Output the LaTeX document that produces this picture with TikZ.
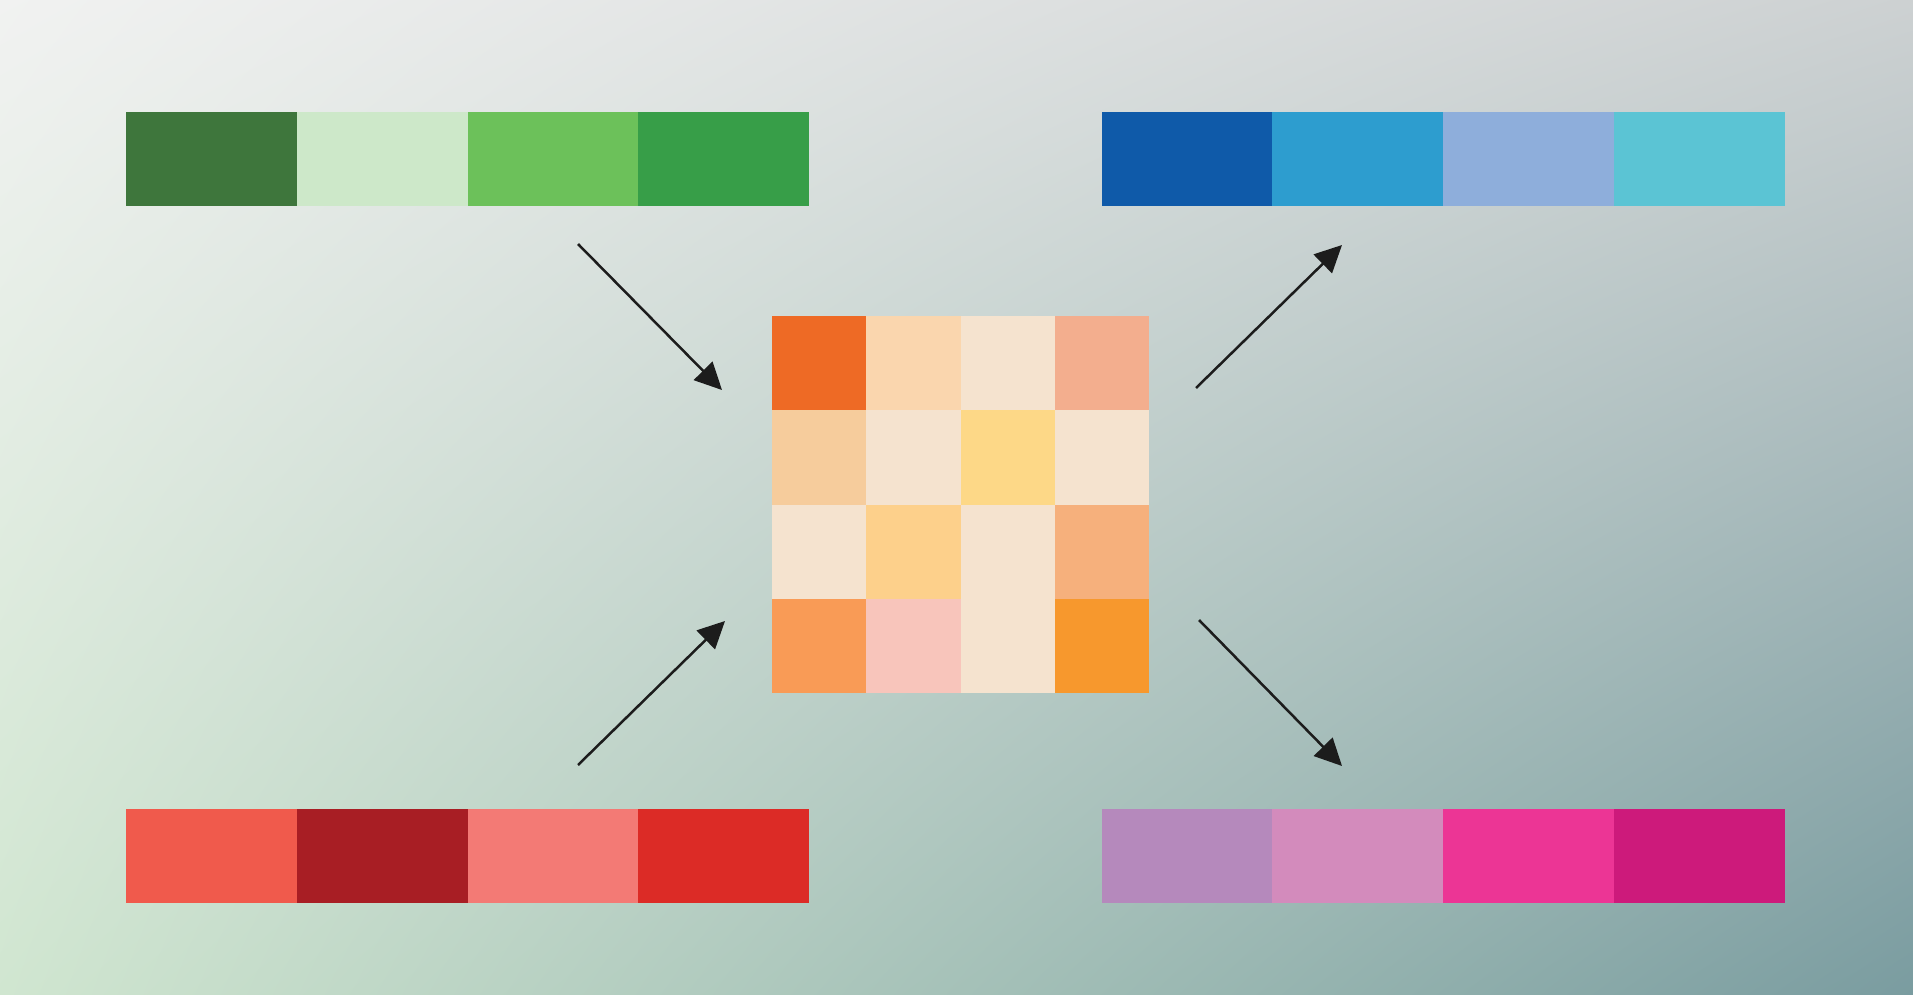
\documentclass[tikz,border=0pt]{standalone}
\usetikzlibrary{positioning,arrows.meta}
\definecolor{green1}{HTML}{3E763C}
\definecolor{green2}{HTML}{CDE8C9}
\definecolor{green3}{HTML}{6CC15A}
\definecolor{green4}{HTML}{379E48}
\definecolor{blue1}{HTML}{0F5AA9}
\definecolor{blue2}{HTML}{2D9DCF}
\definecolor{blue3}{HTML}{8EAEDB}
\definecolor{blue4}{HTML}{5BC4D4}
\definecolor{red1}{HTML}{F05A4C}
\definecolor{red2}{HTML}{A81E24}
\definecolor{red3}{HTML}{F37A75}
\definecolor{red4}{HTML}{DC2B26}
\definecolor{pink1}{HTML}{B589BC}
\definecolor{pink2}{HTML}{D38BBC}
\definecolor{pink3}{HTML}{EC3595}
\definecolor{pink4}{HTML}{CD1A7B}
\definecolor{cream}{HTML}{F5E3CF}
\definecolor{rust}{HTML}{EE6A25}
\definecolor{peach}{HTML}{FAD6AE}
\definecolor{salmon}{HTML}{F3AE8E}
\definecolor{apricot}{HTML}{F6CC9C}
\definecolor{butter}{HTML}{FDD887}
\definecolor{honey}{HTML}{FDD08B}
\definecolor{melon}{HTML}{F6B07C}
\definecolor{tangerine}{HTML}{F99B56}
\definecolor{blush}{HTML}{F8C5BB}
\definecolor{amber}{HTML}{F7982D}
\definecolor{arrowink}{HTML}{1C1C1C}
\pgfdeclarefunctionalshading{backdrop}{\pgfpoint{0bp}{0bp}}{\pgfpoint{100bp}{100bp}}{}{
	25 sub 50 div exch 25 sub 50 div exch
	1 index -0.338 mul 0.816 add 2 index -0.141 mul 0.945 add 1 index sub 2 index mul add 3 1 roll
	1 index -0.290 mul 0.902 add 2 index -0.129 mul 0.949 add 1 index sub 2 index mul add 3 1 roll
	1 index -0.189 mul 0.816 add 2 index -0.121 mul 0.945 add 1 index sub 2 index mul add 3 1 roll
	pop pop
}

\begin{document}
\begin{tikzpicture}[x=1pt,y=-1pt,
	swatch/.style={minimum width=170.75pt,minimum height=94pt,inner sep=0pt,outer sep=0pt},
	tile/.style={minimum size=94.25pt,inner sep=0pt,outer sep=0pt},
	flow/.style={line width=2.5pt,draw=arrowink,-{Triangle[length=27pt,width=26pt]}}]
		\shade[shading=backdrop] (0,0) rectangle (1913,995);
		\useasboundingbox (0,0) rectangle (1913,995);
		
		\node(g1) [swatch,fill=green1,anchor=north west] at (126,112) {};
		\node(g2) [swatch,fill=green2,right=0pt of g1] {};
		\node(g3) [swatch,fill=green3,right=0pt of g2] {};
		\node(g4) [swatch,fill=green4,right=0pt of g3] {};
		
		\node(b1) [swatch,fill=blue1,anchor=north west] at (1101.6,112) {};
		\node(b2) [swatch,fill=blue2,right=0pt of b1] {};
		\node(b3) [swatch,fill=blue3,right=0pt of b2] {};
		\node(b4) [swatch,fill=blue4,right=0pt of b3] {};
		
		\node(r1) [swatch,fill=red1,anchor=north west] at (126,809) {};
		\node(r2) [swatch,fill=red2,right=0pt of r1] {};
		\node(r3) [swatch,fill=red3,right=0pt of r2] {};
		\node(r4) [swatch,fill=red4,right=0pt of r3] {};
		
		\node(p1) [swatch,fill=pink1,anchor=north west] at (1101.6,809) {};
		\node(p2) [swatch,fill=pink2,right=0pt of p1] {};
		\node(p3) [swatch,fill=pink3,right=0pt of p2] {};
		\node(p4) [swatch,fill=pink4,right=0pt of p3] {};
		
		\node(t11) [tile,fill=rust,anchor=north west] at (772,316) {};
		\node(t12) [tile,fill=peach,right=0pt of t11] {};
		\node(t13) [tile,fill=cream,right=0pt of t12] {};
		\node(t14) [tile,fill=salmon,right=0pt of t13] {};
		\node(t21) [tile,fill=apricot,below=0pt of t11] {};
		\node(t22) [tile,fill=cream,right=0pt of t21] {};
		\node(t23) [tile,fill=butter,right=0pt of t22] {};
		\node(t24) [tile,fill=cream,right=0pt of t23] {};
		\node(t31) [tile,fill=cream,below=0pt of t21] {};
		\node(t32) [tile,fill=honey,right=0pt of t31] {};
		\node(t33) [tile,fill=cream,right=0pt of t32] {};
		\node(t34) [tile,fill=melon,right=0pt of t33] {};
		\node(t41) [tile,fill=tangerine,below=0pt of t31] {};
		\node(t42) [tile,fill=blush,right=0pt of t41] {};
		\node(t43) [tile,fill=cream,right=0pt of t42] {};
		\node(t44) [tile,fill=amber,right=0pt of t43] {};
		
		\coordinate(inTL) at (578,244);
		\coordinate(inTLtip) at (722,390);
		\coordinate(inBL) at (578,765);
		\coordinate(inBLtip) at (725,621);
		\coordinate(outTR) at (1196,388);
		\coordinate(outTRtip) at (1342,245);
		\coordinate(outBR) at (1199,620);
		\coordinate(outBRtip) at (1342,766);
		
		\draw[flow] (inTL) -- (inTLtip);
		\draw[flow] (inBL) -- (inBLtip);
		\draw[flow] (outTR) -- (outTRtip);
		\draw[flow] (outBR) -- (outBRtip);
		
\end{tikzpicture}
\end{document}
